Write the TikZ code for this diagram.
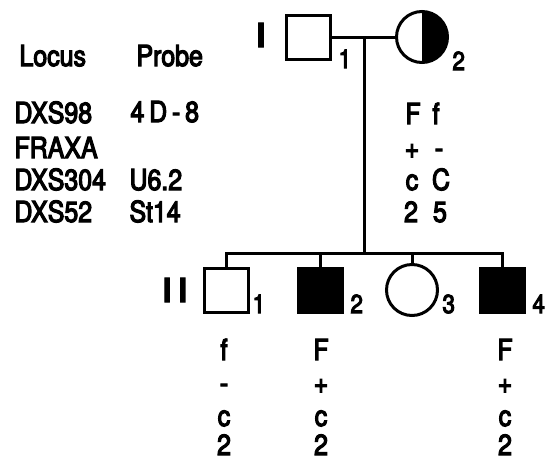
\documentclass[tikz,border=0pt]{standalone}
\usepackage{fontspec}
\setmainfont{TeX Gyre Heros}[FakeStretch=0.86, FakeBold=4]
\begin{document}
\begin{tikzpicture}[x=1pt, y=-1pt, line width=3pt,
  male/.style={draw, rectangle, minimum size=44pt, inner sep=0pt},
  female/.style={draw, circle, minimum size=51pt, inner sep=0pt},
  affected/.style={fill=black},
  carrier/.style={path picture={\fill[black] (path picture bounding box.north) rectangle (path picture bounding box.south east);}},
  txt/.style={inner sep=0pt, anchor=base west, font=\fontsize{29}{29}\selectfont},
  allele/.style={inner sep=0pt, anchor=base, font=\fontsize{29}{29}\selectfont},
  num/.style={inner sep=0pt, anchor=base west, font=\fontsize{26}{26}\selectfont},
  gen/.style={inner sep=0pt, font=\fontsize{33}{33}\selectfont\bfseries}]
\useasboundingbox (0,0) rectangle (551,461);

% generation I
\node[gen] (geni) at (261,35) {I};
\node[male] (i1) at (308,37) {};
\node[female, carrier] (i2) at (422,37) {};
\node[num] (n11) at (337,68) {1};
\node[num] (n12) at (451,70) {2};

% generation II
\node[gen] (genii) at (175,290) {I I};
\node[male] (ii1) at (226,290) {};
\node[male, affected] (ii2) at (320,290) {};
\node[female] (ii3) at (412,290) {};
\node[male, affected] (ii4) at (502,290) {};
\node[num] (n21) at (251,313) {1};
\node[num] (n22) at (349,313) {2};
\node[num] (n23) at (441,313) {3};
\node[num] (n24) at (531,313) {4};

% lines of descent
\coordinate (mate) at (364,37);
\coordinate (sib) at (364,253);
\draw (i1) -- (i2);
\draw (mate) -- (sib);
\draw (ii1.north) -- (ii1.north |- sib) -- (ii4.north |- sib) -- (ii4.north);
\draw (ii2.north) -- (ii2.north |- sib);
\draw (ii3.north) -- (ii3.north |- sib);

% loci and probes
\node[txt] (locus) at (18,66) {Locus};
\node[txt] (probe) at (135,66) {Probe};
\node[txt] (l1) at (13,123) {DXS98};
\node[txt] (l2) at (13,158) {FRAXA};
\node[txt] (l3) at (13,190) {DXS304};
\node[txt] (l4) at (13,222) {DXS52};
\node[txt] (p1) at (129,122) {4\,D\,-\,8};
\node[txt] (p3) at (128,190) {U6.2};
\node[txt] (p4) at (128,222) {St14};

% haplotype of I-2
\node[allele] (a11) at (413,124) {F};
\node[allele] (a12) at (436,124) {f};
\node[allele] (a21) at (412,158) {+};
\node[allele] (a22) at (439,158) {-};
\node[allele] (a31) at (412,190) {c};
\node[allele] (a32) at (441,190) {C};
\node[allele] (a41) at (411,222) {2};
\node[allele] (a42) at (440,222) {5};

% haplotypes of the sons
\node[allele] (s11) at (224,360) {f};
\node[allele] (s12) at (224,393) {-};
\node[allele] (s13) at (224,426) {c};
\node[allele] (s14) at (224,455) {2};
\node[allele] (s21) at (321,360) {F};
\node[allele] (s22) at (321,393) {+};
\node[allele] (s23) at (321,426) {c};
\node[allele] (s24) at (321,455) {2};
\node[allele] (s41) at (505,360) {F};
\node[allele] (s42) at (505,393) {+};
\node[allele] (s43) at (505,426) {c};
\node[allele] (s44) at (505,455) {2};
\end{tikzpicture}
\end{document}
